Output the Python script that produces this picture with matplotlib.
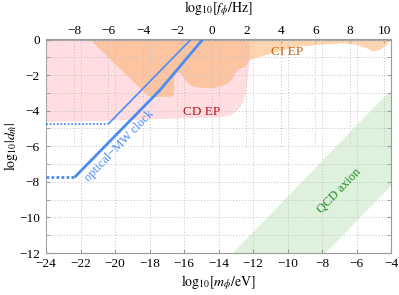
import matplotlib
matplotlib.use('Agg')
import matplotlib.pyplot as plt
from matplotlib.patches import Polygon

plt.rcParams['font.family'] = ['Liberation Serif', 'DejaVu Serif']
plt.rcParams['mathtext.fontset'] = 'stix'

# ---------------- data ----------------
# CD EP excluded region (pink), boundary from top-left, along bottom, to top-right
cd_ep_x = [-24.0, -24.0, -20.0, -16.0, -14.0, -13.4, -12.95, -12.6, -12.4, -12.3, -12.2, -12.15]
cd_ep_y = [0.0, -4.64, -4.55, -4.43, -4.38, -4.3, -4.05, -3.6, -3.0, -2.1, -1.3, 0.0]

# CI EP excluded region (orange), lower boundary from left to right
ci_ep_x = [-21.45, -18.45, -18.16, -17.86, -17.39, -16.93, -16.71, -16.58, -16.58, -16.52,
           -16.39, -16.23, -15.94, -15.65, -15.26, -14.49, -13.91, -13.52, -13.23, -13.04,
           -12.85, -12.46, -12.33, -12.17, -11.21, -10.26, -9.28, -8.31, -6.78, -5.99,
           -5.41, -5.04, -4.64, -4.25, -4.0]
ci_ep_y = [0.0, -2.84, -3.12, -3.23, -3.24, -3.21, -3.21, -3.12, -2.28, -2.03,
           -1.84, -1.90, -2.28, -2.56, -2.69, -2.74, -2.65, -2.52, -2.28, -1.90,
           -1.67, -1.53, -1.34, -1.15, -0.87, -0.59, -0.40, -0.31, -0.21, -0.31,
           -0.49, -0.69, -0.59, -0.31, 0.0]

# optical-MW clock projections
thin_dot_x = [-24.0, -20.4]
thin_dot_y = [-4.76, -4.76]
thin_x = [-20.4, -15.6]
thin_y = [-4.76, 0.0]
thick_dot_x = [-24.0, -22.35]
thick_dot_y = [-7.75, -7.75]
thick_x = [-22.35, -17.4, -14.92]
thick_y = [-7.75, -2.85, 0.0]

# QCD axion band edges
qcd_upper_x = [-13.16, -4.0]
qcd_upper_y = [-12.0, -2.84]
qcd_lower_x = [-7.78, -4.0]
qcd_lower_y = [-12.0, -8.22]

# axes / ticks
freq_offset = 14.38   # log10(f/Hz) = log10(m/eV) + 14.38
x_ticks = list(range(-24, -3, 2))
y_ticks = list(range(-12, 1, 2))
top_ticks = list(range(-8, 11, 2))

# ---------------- plot ----------------
blue = '#4a8cf2'
gridc = '#c4c4c4'
framec = '#9a9a9a'

fig = plt.figure(figsize=(3.99, 2.95), dpi=100)
ax = fig.add_axes([46/399, 1-253/295, 345/399, 213.5/295])
ax.set_xlim(-24, -4)
ax.set_ylim(-12, 0)

ax.add_patch(Polygon(list(zip(cd_ep_x, cd_ep_y)), closed=True,
                     facecolor='#ffdde1', edgecolor='none', zorder=1))
ax.add_patch(Polygon(list(zip(ci_ep_x, ci_ep_y)), closed=True,
                     facecolor=(252/255, 172/255, 100/255), alpha=0.5,
                     edgecolor='none', zorder=2))
qcd_poly = list(zip(qcd_upper_x, qcd_upper_y)) + list(zip(qcd_lower_x, qcd_lower_y))[::-1]
ax.add_patch(Polygon(qcd_poly, closed=True, facecolor='#ddf1dc',
                     edgecolor='none', zorder=1))

# grid
ax.set_xticks(x_ticks)
ax.set_yticks(y_ticks)
ax.set_yticks(list(range(-12, 1, 1)), minor=True)
ax.grid(True, which='major', axis='x', color=gridc, ls=(0, (1, 2)), lw=0.7, zorder=3)
ax.grid(True, which='both', axis='y', color=gridc, ls=(0, (1, 2)), lw=0.7, zorder=3)
ax.vlines([t - freq_offset for t in top_ticks], -6, 0, color=gridc,
          linestyles=[(0, (1, 2))], lw=0.7, zorder=3)
ax.set_axisbelow(False)

# clock lines
ax.plot(thin_dot_x, thin_dot_y, color=blue, lw=1.3, ls=(0, (1, 1)), zorder=5)
ax.plot(thin_x, thin_y, color=blue, lw=1.2, zorder=5, solid_capstyle='butt')
ax.plot(thick_dot_x, thick_dot_y, color=blue, lw=2.0, ls=(0, (1, 0.8)), zorder=5)
ax.plot(thick_x, thick_y, color=blue, lw=2.0, zorder=5, solid_capstyle='butt')

# labels in the plot
ax.text(-19.77, -6.01, 'optical\u2212MW clock', rotation=46, color=blue, fontsize=9,
        ha='center', va='center', rotation_mode='anchor', zorder=6)
ax.text(-7.01, -8.51, 'QCD axion', rotation=46, color='#1e8a1e', fontsize=9,
        ha='center', va='center', rotation_mode='anchor', zorder=6)
ax.text(-14.99, -4.10, 'CD EP', color='#c0141e', fontsize=9.5,
        ha='center', va='center', zorder=6)
ax.text(-10.0, -0.69, 'CI EP', color='#b8681c', fontsize=9.5,
        ha='center', va='center', zorder=6)

# frame / ticks
for s in ax.spines.values():
    s.set_color(framec)
    s.set_linewidth(0.8)
ax.tick_params(which='both', direction='in', top=False, right=True, length=3,
               color=framec, labelsize=9.5, pad=4.5)
ax.tick_params(axis='x', pad=3.5)

sec = ax.secondary_xaxis('top', functions=(lambda m: m + freq_offset,
                                           lambda f: f - freq_offset))
sec.set_xticks(top_ticks)
sec.tick_params(direction='in', length=3, color=framec, labelsize=9.5, pad=2)
sec.spines['top'].set_color(framec)
sec.spines['top'].set_linewidth(0.8)

fig.text(218.5/399, 1-283/295, r'$\mathrm{log}_{10}[m_\phi/\mathrm{eV}]$',
         ha='center', va='center', fontsize=10)
fig.text(218.5/399, 1-9/295, r'$\mathrm{log}_{10}[f_\phi/\mathrm{Hz}]$',
         ha='center', va='center', fontsize=10)
fig.text(11/399, 1-146/295, r'$\mathrm{log}_{10}|d_{\hat{m}}|$', rotation=90,
         ha='center', va='center', fontsize=10)

fig.savefig('out.png', dpi=100)
